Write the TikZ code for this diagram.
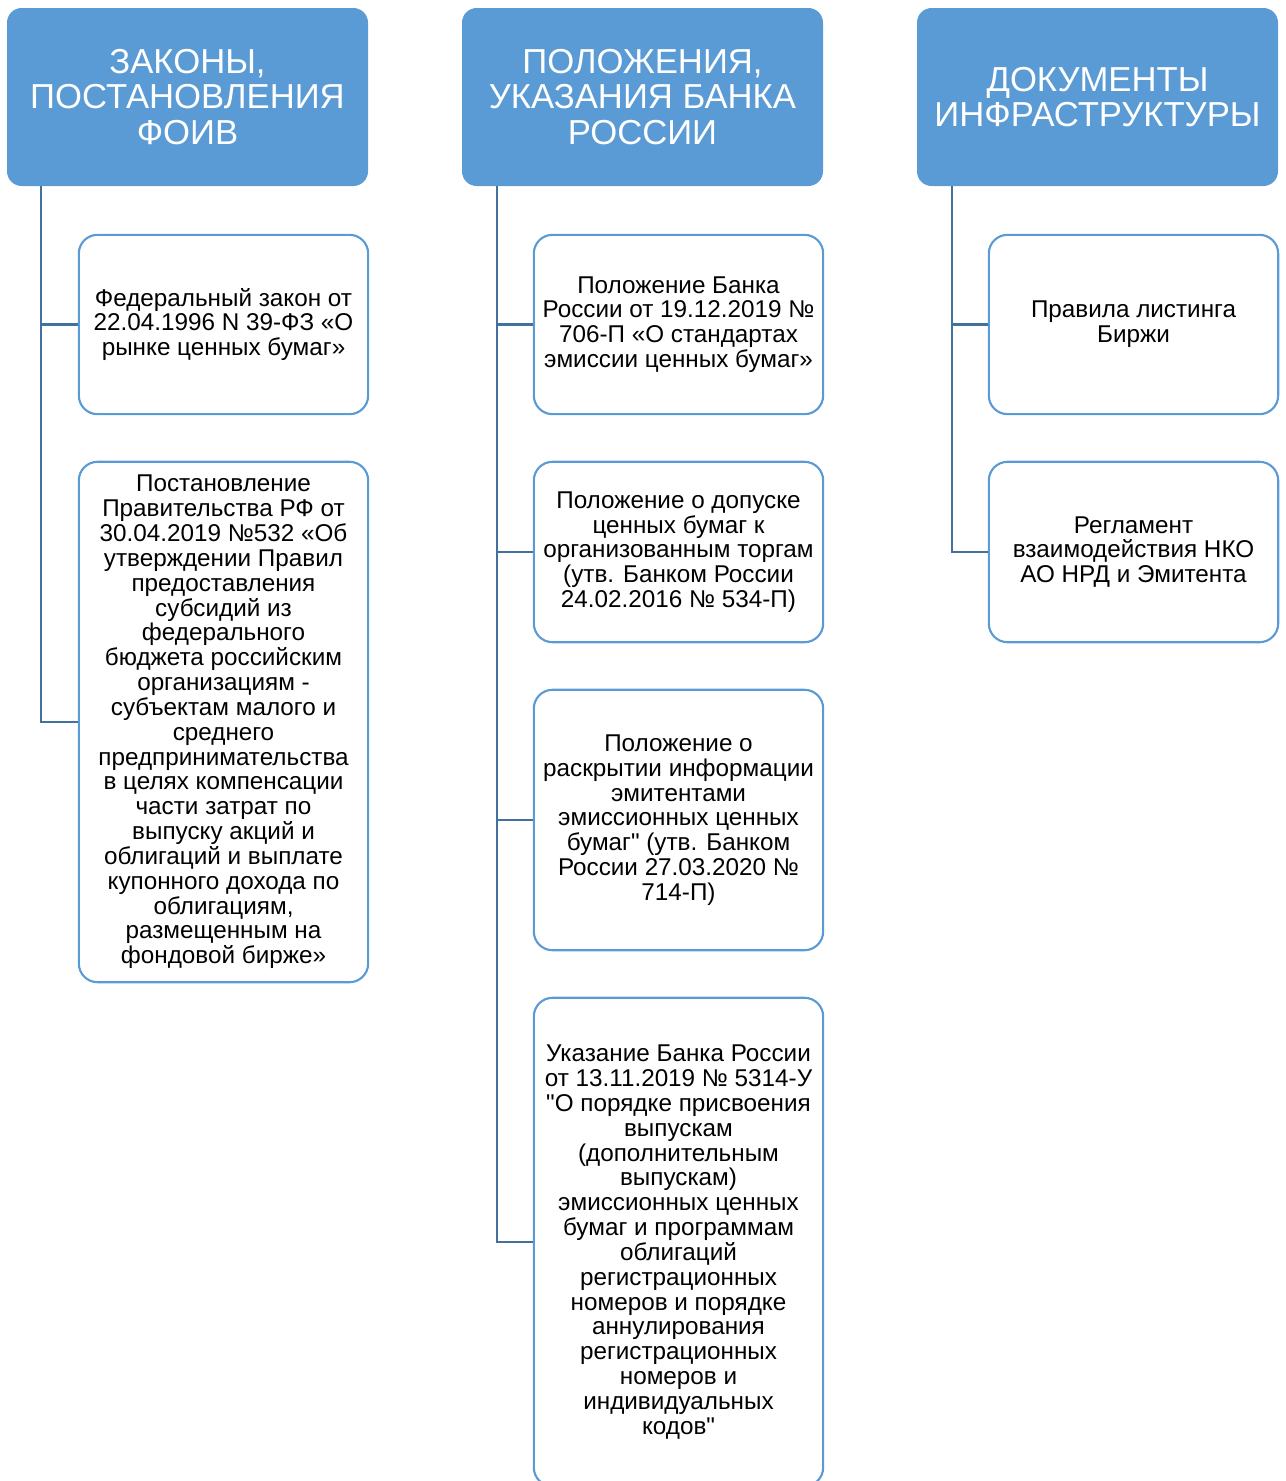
\documentclass[tikz,border=0pt]{standalone}
\usepackage{fontspec}
\setmainfont{Liberation Sans}[Ligatures=TeXOff]
\definecolor{hdrfill}{HTML}{5B9BD5}
\definecolor{boxline}{HTML}{5B9BD5}
\definecolor{connline}{HTML}{41719C}
\begin{document}
\begin{tikzpicture}[x=0.75pt,y=-0.75pt,
  hdr/.style={rounded corners=11pt,fill=hdrfill,draw=none,text=white,align=center,inner sep=0pt,
    minimum width=270.75pt,minimum height=133.5pt,font=\fontsize{26}{26.6}\selectfont},
  child/.style={rounded corners=14pt,draw=boxline,line width=1.6pt,fill=white,align=center,inner sep=0pt,
    minimum width=217pt,font=\fontsize{18.2}{18.63}\selectfont},
  conn/.style={draw=connline,line width=1.9pt}]
\useasboundingbox (0,0) rectangle (1285,1481);
\begin{scope}
\clip (0,0) rectangle (1285,1481);
% headers
\node[hdr] (h1) at (187.5,97) {ЗАКОНЫ,\\ПОСТАНОВЛЕНИЯ\\ФОИВ};
\node[hdr] (h2) at (642.5,97) {ПОЛОЖЕНИЯ,\\УКАЗАНИЯ БАНКА\\РОССИИ};
\node[hdr] (h3) at (1097.5,97) {ДОКУМЕНТЫ\\ИНФРАСТРУКТУРЫ};
% trunk start coordinates
\coordinate (t1) at (41,186);
\coordinate (t2) at (497,186);
\coordinate (t3) at (952,186);
% column 1
\node[child,minimum height=134.5pt] (c11) at (223.5,324.5) {Федеральный закон от\\22.04.1996 N 39-ФЗ «О\\рынке ценных бумаг»};
\node[child,minimum height=390.3pt] (c12) at (223.5,722) {Постановление\\Правительства РФ от\\30.04.2019 №532 «Об\\утверждении Правил\\предоставления\\субсидий из\\федерального\\бюджета российским\\организациям -\\субъектам малого и\\среднего\\предпринимательства\\в целях компенсации\\части затрат по\\выпуску акций и\\облигаций и выплате\\купонного дохода по\\облигациям,\\размещенным на\\фондовой бирже»};
% column 2
\node[child,minimum height=134.5pt] (c21) at (678.5,324.5) {Положение Банка\\России от 19.12.2019 №\\706-П «О стандартах\\эмиссии ценных бумаг»};
\node[child,minimum height=135.3pt] (c22) at (678.5,552) {Положение о допуске\\ценных бумаг к\\организованным торгам\\(утв. Банком России\\24.02.2016 № 534-П)};
\node[child,minimum height=195.3pt] (c23) at (678.5,820) {Положение о\\раскрытии информации\\эмитентами\\эмиссионных ценных\\бумаг" (утв. Банком\\России 27.03.2020 №\\714-П)};
\node[child,minimum height=366.3pt] (c24) at (678.5,1242) {Указание Банка России\\от 13.11.2019 № 5314-У\\"О порядке присвоения\\выпускам\\(дополнительным\\выпускам)\\эмиссионных ценных\\бумаг и программам\\облигаций\\регистрационных\\номеров и порядке\\аннулирования\\регистрационных\\номеров и\\индивидуальных\\кодов"};
% column 3
\node[child,minimum height=134.5pt] (c31) at (1133.5,324.5) {Правила листинга\\Биржи};
\node[child,minimum height=135.3pt] (c32) at (1133.5,552) {Регламент\\взаимодействия НКО\\АО НРД и Эмитента};
% connectors
\draw[conn] (t1) |- (c11.west);
\draw[conn] (t1) |- (c12.west);
\draw[conn] (t2) |- (c21.west);
\draw[conn] (t2) |- (c22.west);
\draw[conn] (t2) |- (c23.west);
\draw[conn] (t2) |- (c24.west);
\draw[conn] (t3) |- (c31.west);
\draw[conn] (t3) |- (c32.west);
\end{scope}
\end{tikzpicture}
\end{document}
